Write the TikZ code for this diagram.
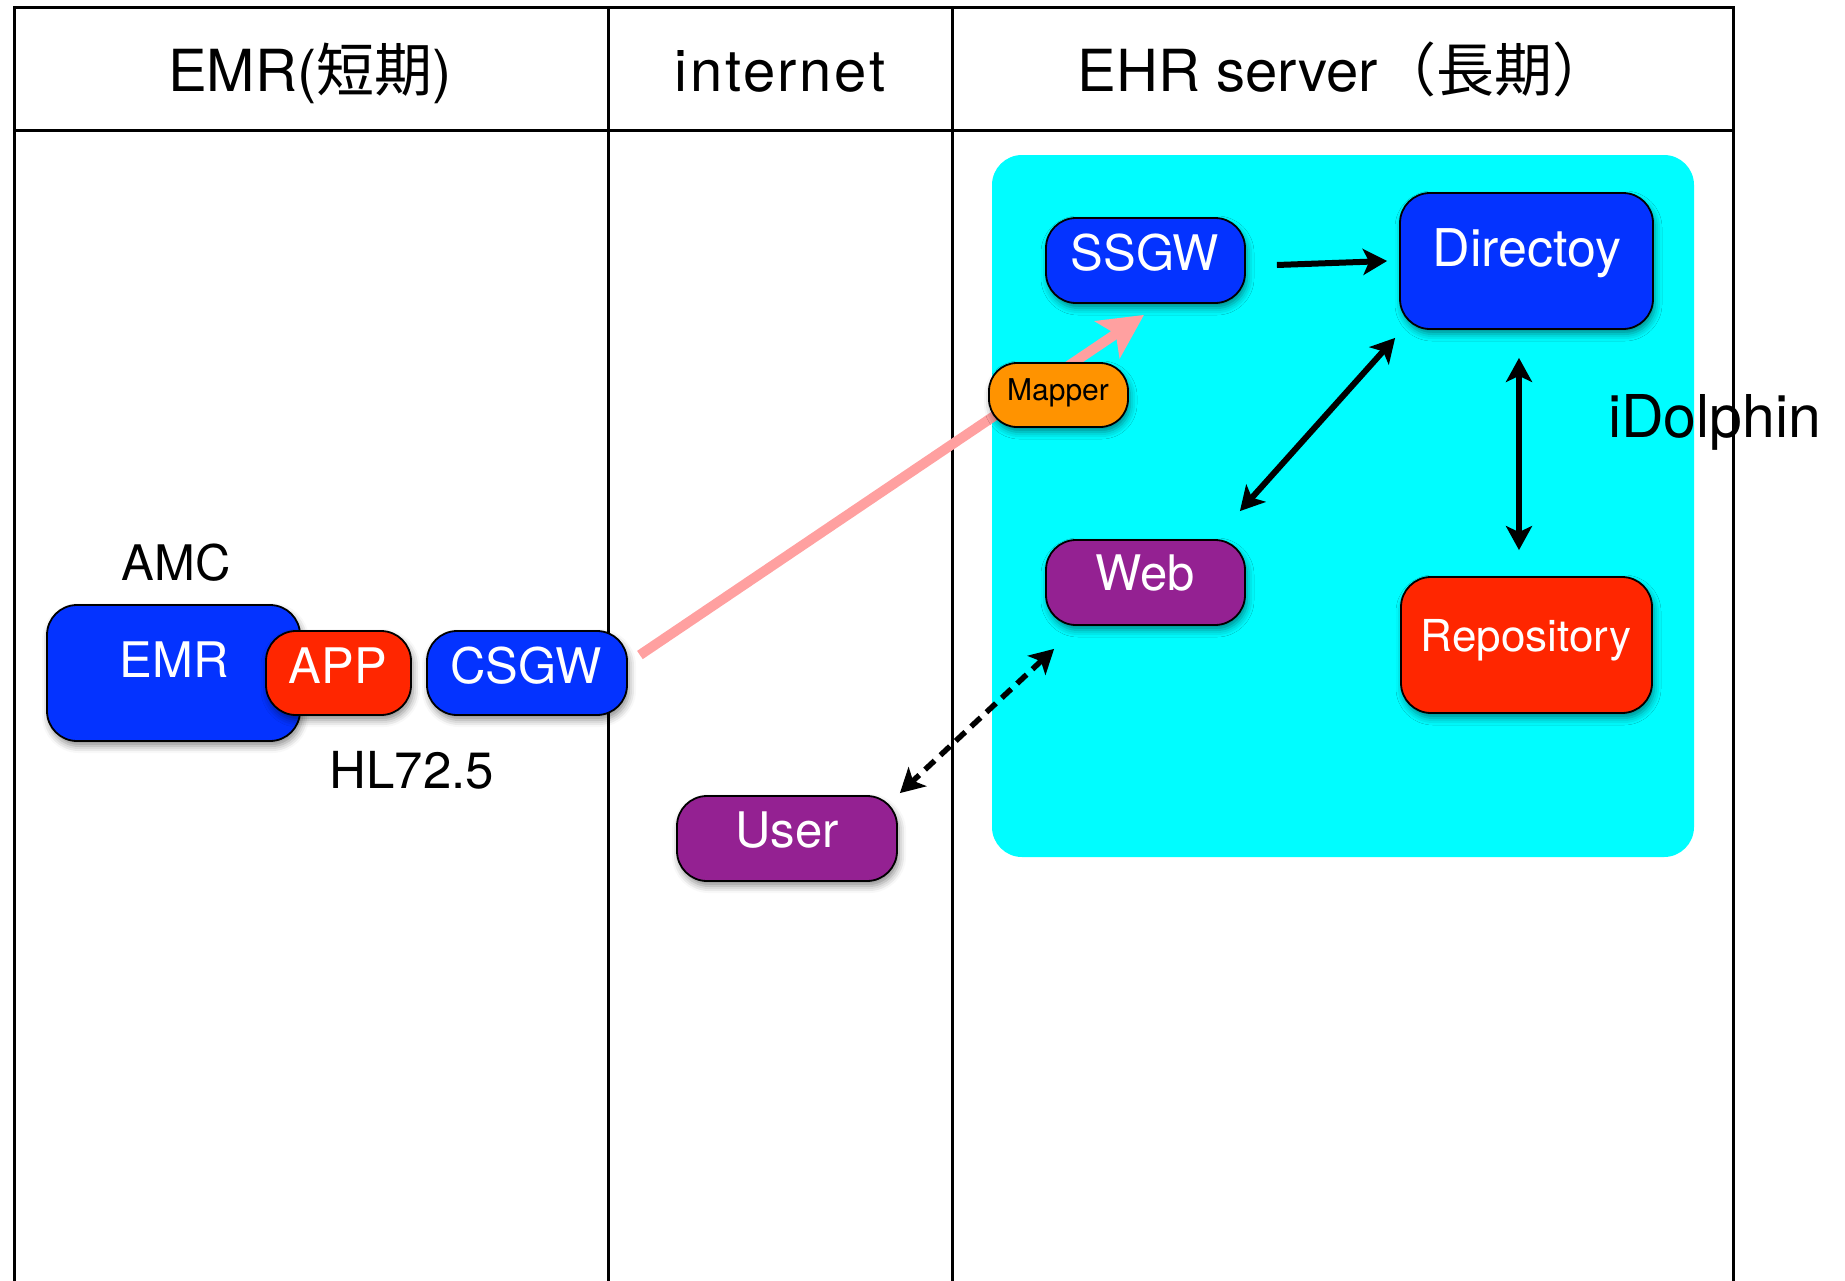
\documentclass[tikz,border=0pt]{standalone}
\usepackage{fontspec}
\setmainfont{TeX Gyre Heros}
\newfontfamily\cjk{Noto Sans CJK JP}
\newfontfamily\wideheros[LetterSpace=4.5]{TeX Gyre Heros}
\usetikzlibrary{arrows.meta,shadows.blur,calc}
\definecolor{kblue}{RGB}{4,51,255}
\definecolor{kred}{RGB}{255,38,0}
\definecolor{kpurple}{RGB}{148,33,146}
\definecolor{korange}{RGB}{255,147,0}
\definecolor{kcyan}{RGB}{0,253,255}
\definecolor{kpink}{RGB}{255,160,160}
\tikzset{
  bk/.tip={Stealth[length=24pt,width=26pt,inset=6pt]},
  pk/.tip={Stealth[length=44pt,width=44pt,inset=10pt]},
}
\begin{document}
\begin{tikzpicture}[x=1pt,y=-1pt,
  box/.style={draw=black, line width=1.8pt, rounded corners=30pt, inner sep=0pt,
    blur shadow={shadow xshift=2pt, shadow yshift=-5pt, shadow blur radius=7pt, shadow opacity=45}},
  wt/.style={text=white, anchor=base, inner sep=0pt, font=\fontsize{49}{58}\selectfont},
  bt/.style={text=black, anchor=base, inner sep=0pt, font=\fontsize{49}{58}\selectfont},
  hd/.style={text=black, anchor=base, inner sep=0pt, font=\fontsize{58}{68}\selectfont},
  grid/.style={line width=3pt, draw=black},
  arr/.style={line width=6pt, -bk},
  darr/.style={line width=6pt, bk-bk},
  dasharr/.style={line width=5.5pt, bk-bk, dash pattern=on 13pt off 8pt},
  pinkarr/.style={line width=10pt, draw=kpink, -pk}
]
\useasboundingbox (0,0) rectangle (1845,1280);
% background of iDolphin
\fill[kcyan, rounded corners=30pt] (992,155) rectangle (1694,857);
% table
\draw[grid] (14.5,1285) -- (14.5,7.5) -- (1733,7.5) -- (1733,1285);
\draw[grid] (14.5,130) -- (1733,130);
\draw[grid] (608,7.5) -- (608,1285);
\draw[grid] (952,7.5) -- (952,1285);
% headers
\node[hd] (h1) at (310,91) {EMR({\cjk 短期})};
\node[hd, font=\fontsize{58}{68}\wideheros] (h2) at (780,91) {internet};
\node[hd] (h3) at (1344,91) {EHR server{\cjk （長期）}};
% left column
\node[bt] (amc) at (176,580) {AMC};
\node[box, fill=kblue, minimum width=253pt, minimum height=136pt] (emr) at (173.5,673) {};
\node[wt] (emrT) at (174,677) {EMR};
\node[box, fill=kred, minimum width=145pt, minimum height=84pt] (app) at (338.5,673) {};
\node[wt] (appT) at (338,683) {APP};
\node[box, fill=kblue, minimum width=200pt, minimum height=84pt] (csgw) at (527,673) {};
\node[wt] (csgwT) at (526,683) {CSGW};
\node[bt, font=\fontsize{51}{60}\selectfont] (hl7) at (412,788) {HL72.5};
% internet column
\node[box, fill=kpurple, minimum width=220pt, minimum height=85pt] (user) at (787,838.5) {};
\node[wt] (userT) at (787,847) {User};
% EHR server column
\node[box, fill=kblue, minimum width=199pt, minimum height=85pt] (ssgw) at (1145.5,260.5) {};
\node[wt] (ssgwT) at (1145,270) {SSGW};
\node[box, fill=kblue, minimum width=253pt, minimum height=136pt] (dir) at (1526.5,261) {};
\node[wt, font=\fontsize{52}{60}\selectfont] (dirT) at (1527,266) {Directoy};
\node[box, fill=kpurple, minimum width=199pt, minimum height=85pt] (web) at (1145.5,582.5) {};
\node[wt] (webT) at (1145,590) {Web};
\node[box, fill=kred, minimum width=251pt, minimum height=136pt] (repo) at (1526.5,645) {};
\node[wt, font=\fontsize{44}{52}\selectfont] (repoT) at (1526,651) {Repository};
\node[text=black, anchor=base west, inner sep=0pt, font=\fontsize{59}{68}\selectfont] (idol) at (1608,437) {iDolphin};
% pink arrow (under Mapper)
\draw[pinkarr] ($(csgw.east)+(12,-18)$) -- ($(ssgw.south)+(-1.5,11)$);
\node[box, fill=korange, rounded corners=28pt, minimum width=139pt, minimum height=64pt] (mapper) at (1058.5,395) {};
\node[bt, font=\fontsize{30}{35}\selectfont] (mapperT) at (1058,400) {Mapper};
% black arrows
\draw[arr] ($(ssgw.east)+(31,4.5)$) -- ($(dir.west)+(-12,0)$);
\draw[darr] ($(dir.south west)+(-4,8)$) -- ($(web.north east)+(-6,-28)$);
\draw[darr] ($(dir.south)+(-7.5,28)$) -- ($(repo.north)+(-7.5,-26)$);
\draw[dasharr] ($(web.south west)+(9,23)$) -- ($(user.north east)+(2,-2)$);
\end{tikzpicture}
\end{document}
